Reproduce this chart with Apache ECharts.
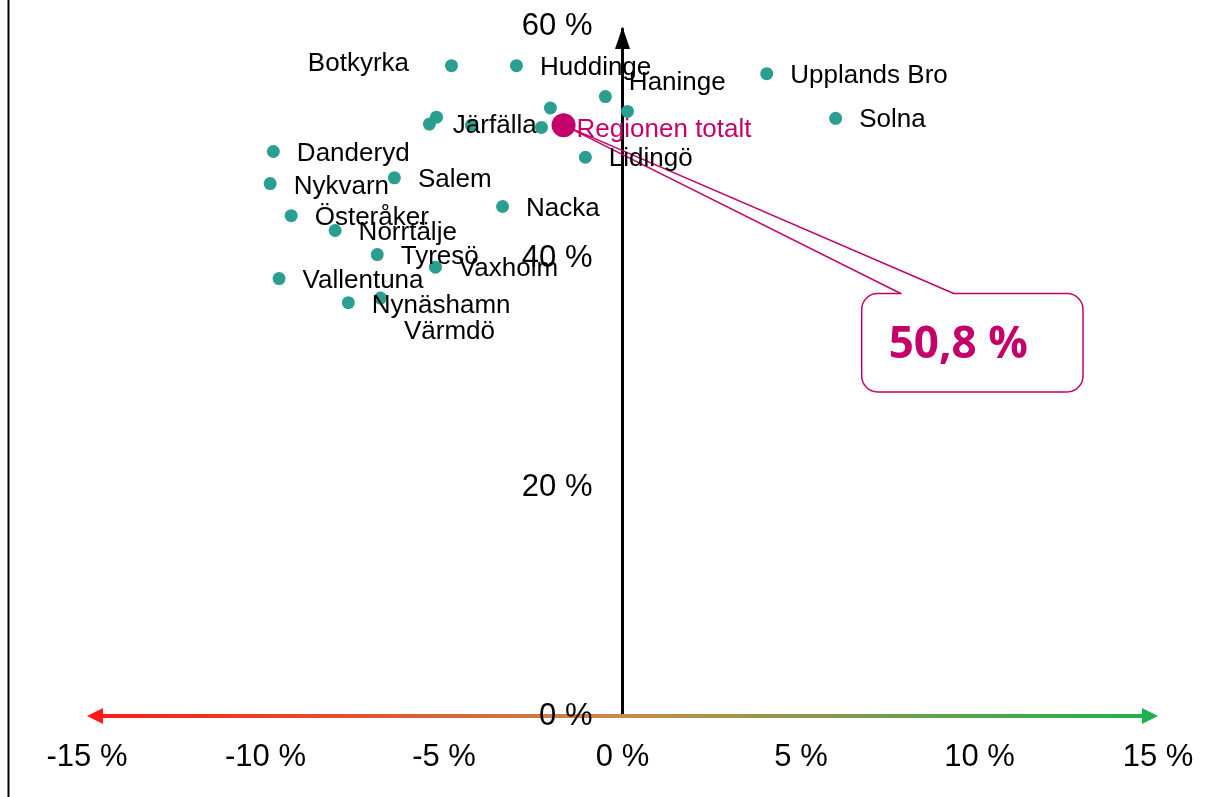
<!DOCTYPE html>
<html>
<head>
<meta charset="utf-8">
<script src="https://cdn.jsdelivr.net/npm/echarts@6/dist/echarts.min.js"></script>
<style>
html,body{margin:0;padding:0;background:#fff;}
#c{width:1208px;height:797px;}
</style>
</head>
<body>
<div id="c"></div>
<script>
// ---- data (x = change in %-points, y = share in %) ----
const names = ['Botkyrka','Huddinge','Haninge','Upplands Bro','Solna','','','','Järfälla','','','Lidingö',
  'Danderyd','Nykvarn','Salem','Nacka','Österåker','Norrtälje','Tyresö','Vaxholm','Vallentuna','Nynäshamn','Värmdö'];
const xVals = [-4.79,-2.97,-0.48,4.04,5.97,0.14,-2.02,-2.27,-5.41,-5.21,-4.23,-1.04,
  -9.78,-9.87,-6.39,-3.36,-9.28,-8.05,-6.87,-5.24,-9.62,-7.68,-6.78];
const yVals = [56.8,56.8,54.1,56.1,52.2,52.8,53.1,51.4,51.7,52.3,51.6,48.8,
  49.3,46.5,47.0,44.5,43.7,42.4,40.3,39.2,38.2,36.1,36.5];
const regionName = 'Regionen totalt';
const regionX = -1.65;
const regionY = 51.6;
const regionLabel = '50,8 %';
const xTicks = [-15, -10, -5, 0, 5, 10, 15];
const yTicks = [0, 20, 40, 60];

// ---- styles ----
const TEAL = '#2B9E92';
const MAGENTA = '#C6006B';
const FONT = '"Liberation Sans", Arial, sans-serif';
const labelTweaks = {
  'Botkyrka': {position: 'left', distance: 36, offset: [0, -2]},
  'Haninge': {offset: [0, -14]},
  'Värmdö': {offset: [0, 34]},
  'Nykvarn': {offset: [0, 3]},
  'Nynäshamn': {offset: [0, 3]}
};

const cityData = names.map((n, i) => {
  const item = {name: n, value: [xVals[i], yVals[i]]};
  const t = labelTweaks[n];
  item.label = Object.assign({show: n !== ''}, t || {});
  return item;
});

const chart = echarts.init(document.getElementById('c'), null, {renderer: 'canvas'});
chart.setOption({
  animation: false,
  backgroundColor: '#fff',
  grid: {left: 87, right: 50, top: 29, bottom: 81, containLabel: false, outerBoundsMode: 'none'},
  xAxis: {
    type: 'value', min: xTicks[0], max: xTicks[xTicks.length - 1], interval: 5,
    axisLine: {show: false},
    axisTick: {show: false},
    splitLine: {show: false},
    axisLabel: {
      color: '#000', fontFamily: FONT, fontSize: 31, margin: 26,
      formatter: v => (xTicks.includes(v) ? v + ' %' : '')
    }
  },
  yAxis: {
    type: 'value', min: yTicks[0], max: yTicks[yTicks.length - 1], interval: 20,
    axisLine: {show: true, onZero: true, lineStyle: {color: '#000', width: 3}},
    axisTick: {show: false},
    splitLine: {show: false},
    axisLabel: {show: false}
  },
  series: [
    {
      type: 'scatter', z: 3,
      symbolSize: 13,
      itemStyle: {color: TEAL, opacity: 1},
      label: {show: true, position: 'right', distance: 17, offset: [0, 2], color: '#000', opacity: 1, fontFamily: FONT, fontSize: 26,
        formatter: p => p.name},
      emphasis: {disabled: true},
      data: cityData
    },
    {
      type: 'scatter', z: 5,
      symbolSize: 24,
      itemStyle: {color: MAGENTA, opacity: 1},
      label: {show: true, position: 'right', distance: 1, offset: [0, 5], color: MAGENTA, opacity: 1, fontFamily: FONT, fontSize: 26,
        formatter: p => p.name},
      emphasis: {disabled: true},
      data: [{name: regionName, value: [regionX, regionY]}]
    }
  ]
});

function drawGraphics() {
  const toPx = v => chart.convertToPixel({gridIndex: 0}, v);
  const xl = toPx([xTicks[0], 0]);
  const xr = toPx([xTicks[xTicks.length - 1], 0]);
  const yt = toPx([0, yTicks[yTicks.length - 1]]);
  const apex = toPx([regionX, regionY]);
  // callout box anchored in data space
  const b1 = toPx([6.7, 36.9]);
  const b2 = toPx([12.9, 28.3]);
  const L = b1[0], T = b1[1], R = b2[0], B = b2[1];
  const pL = L + 39, pR = L + 92;
  const AH = 16, AW = 8;
  const grad = new echarts.graphic.LinearGradient(0, 0, 1, 0, [
    {offset: 0, color: '#FF1A1A'},
    {offset: 0.5, color: '#C98B48'},
    {offset: 1, color: '#1DB14F'}
  ]);
  const els = [
    {type: 'line', z: 10, shape: {x1: 8.5, y1: 0, x2: 8.5, y2: 797}, style: {stroke: '#000', lineWidth: 2}},
    {type: 'rect', z: 1, shape: {x: xl[0] + AH - 1, y: xl[1] - 2, width: xr[0] - xl[0] - 2 * AH + 2, height: 4},
      style: {fill: grad}},
    {type: 'polygon', z: 1, shape: {points: [[xl[0], xl[1]], [xl[0] + AH, xl[1] - AW], [xl[0] + AH, xl[1] + AW]]},
      style: {fill: '#FF1A1A'}},
    {type: 'polygon', z: 1, shape: {points: [[xr[0], xr[1]], [xr[0] - AH, xr[1] - AW], [xr[0] - AH, xr[1] + AW]]},
      style: {fill: '#1DB14F'}},
    {type: 'polygon', z: 1, shape: {points: [[yt[0], yt[1] - 2], [yt[0] - 7.5, yt[1] + 20], [yt[0] + 7.5, yt[1] + 20]]},
      style: {fill: '#000'}},
    {type: 'rect', z: 1, shape: {x: L, y: T, width: R - L, height: B - T, r: 16},
      style: {fill: '#fff', stroke: MAGENTA, lineWidth: 1.5}},
    {type: 'line', z: 1, shape: {x1: pL + 1, y1: T, x2: pR - 1, y2: T}, style: {stroke: '#fff', lineWidth: 4}},
    {type: 'polyline', z: 1, shape: {points: [[pL, T], [apex[0], apex[1]], [pR, T]]},
      style: {stroke: MAGENTA, lineWidth: 1.5, fill: null}},
    {type: 'text', z: 2, x: L + 27, y: (T + B) / 2 + 3,
      style: {text: regionLabel, fill: MAGENTA, font: 'bold 44px "Open Sans", "Noto Sans", sans-serif',
        align: 'left', verticalAlign: 'middle'}}
  ];
  yTicks.forEach(v => {
    const p = toPx([0, v]);
    els.push({type: 'text', z: 2, x: p[0] - 30, y: p[1] - (v === yTicks[yTicks.length - 1] ? 3 : 0),
      style: {text: v + ' %', fill: '#000', font: '31px ' + FONT, align: 'right', verticalAlign: 'middle'}});
  });
  chart.setOption({graphic: els});
}
drawGraphics();
</script>
</body>
</html>
